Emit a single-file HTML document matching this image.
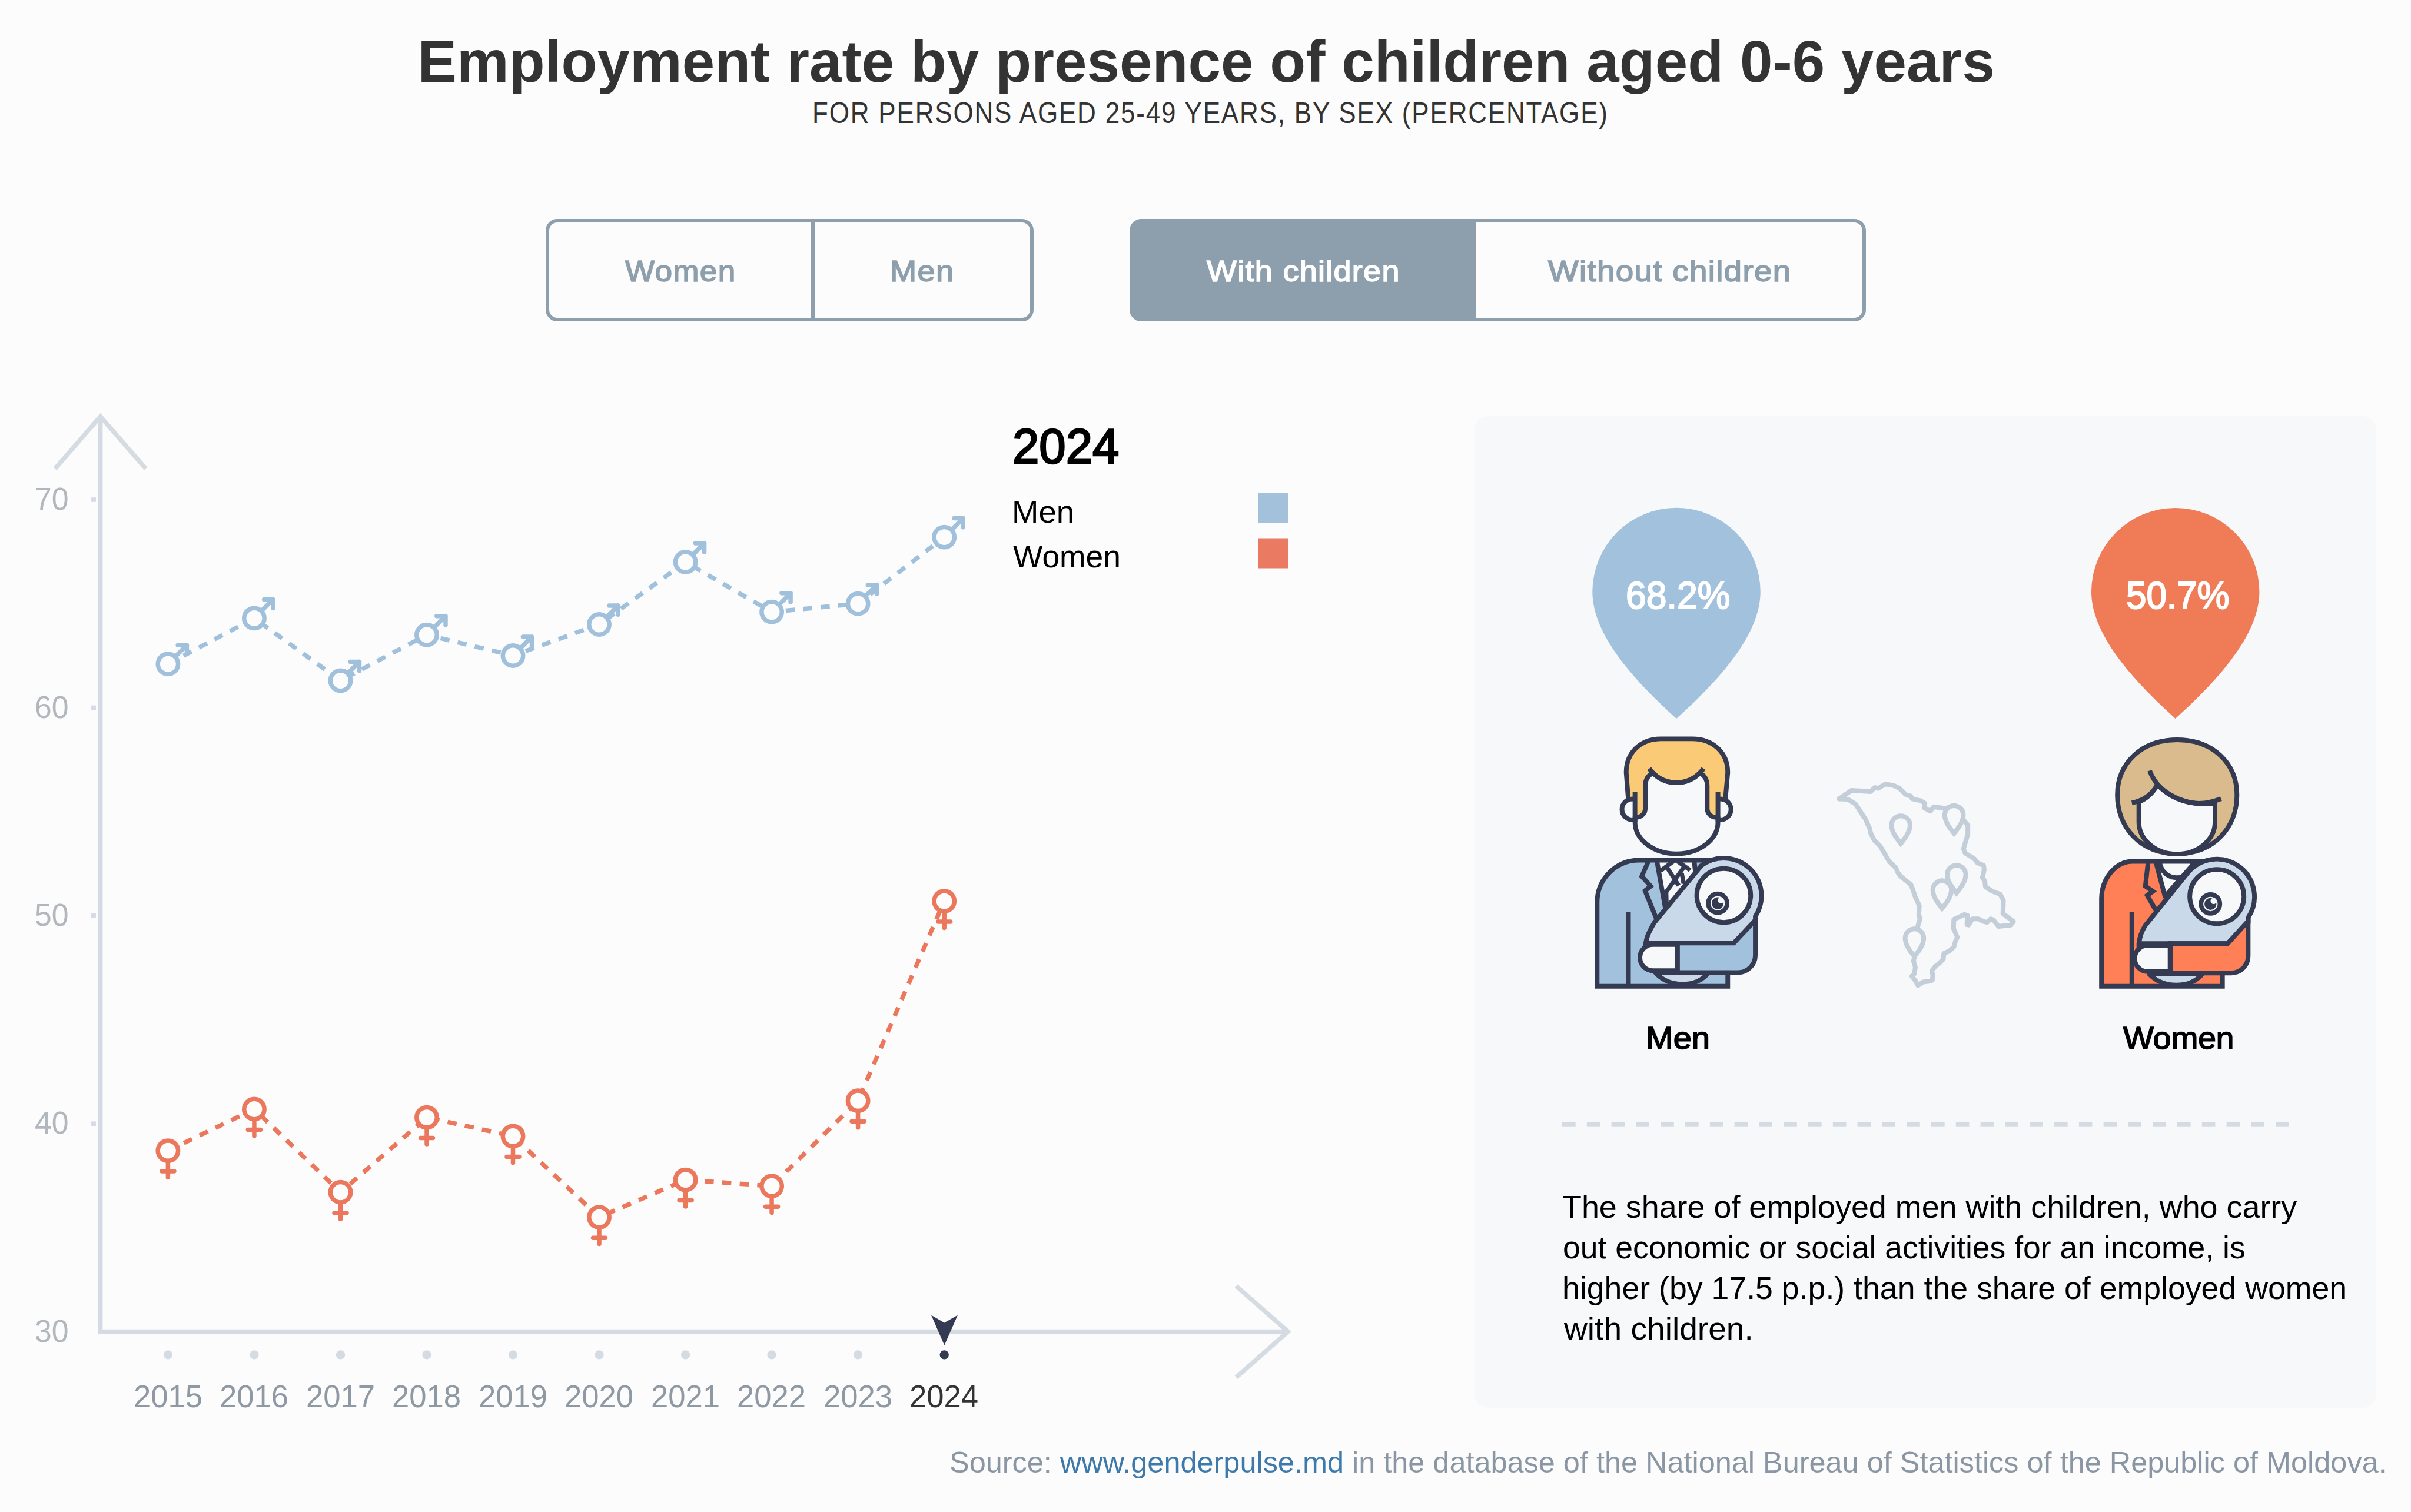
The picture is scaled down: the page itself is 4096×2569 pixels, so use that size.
<!DOCTYPE html>
<html lang="en">
<head>
<meta charset="utf-8">
<title>Employment rate by presence of children aged 0-6 years</title>
<style>
html,body{margin:0;padding:0;}
body{width:4096px;height:2569px;background:#fcfcfc;position:relative;overflow:hidden;font-family:"Liberation Sans",sans-serif;}
.t{position:absolute;display:block;white-space:nowrap;margin:0;padding:0;transform-origin:0 0;font-style:normal;}
.full{position:absolute;left:0;top:0;}
.btn{position:absolute;box-sizing:border-box;border:6px solid #8d9fac;top:372.3px;height:174px;}
.panel{position:absolute;left:2505px;top:707px;width:1532px;height:1684.5px;border-radius:24px;background:#f6f8fa;}
</style>
</head>
<body>
<div class="btn" role="button" style="left:927px;width:457px;border-radius:20px 0 0 20px;"></div>
<div class="btn" style="left:1378px;width:377.5px;border-radius:0 20px 20px 0;"></div>
<div class="btn" style="left:2502px;width:668px;border-radius:0 20px 20px 0;"></div>
<div class="btn" style="left:1919px;width:589px;border-radius:20px 0 0 20px;background:#8d9fac;"></div>
<div class="panel"></div>
<svg class="full" width="4096" height="2569" viewBox="0 0 4096 2569">
<g fill="none" stroke="#d5dbe2" stroke-width="7.6">
<path d="M170.6 708 V2262.6 H2190"/>
<path d="M93.4 796.5 L170.6 707.6 L247.9 796.5"/>
<path d="M2100.1 2185 L2188.3 2262.6 L2100.1 2340.2"/>
<path d="M155.1 849.0 H162.9"/>
<path d="M155.1 1202.4 H162.9"/>
<path d="M155.1 1555.8 H162.9"/>
<path d="M155.1 1909.2 H162.9"/>
</g>
<circle cx="285.4" cy="2301.9" r="7.7" fill="#d5dbe2"/>
<circle cx="431.9" cy="2301.9" r="7.7" fill="#d5dbe2"/>
<circle cx="578.5" cy="2301.9" r="7.7" fill="#d5dbe2"/>
<circle cx="725.0" cy="2301.9" r="7.7" fill="#d5dbe2"/>
<circle cx="871.5" cy="2301.9" r="7.7" fill="#d5dbe2"/>
<circle cx="1018.0" cy="2301.9" r="7.7" fill="#d5dbe2"/>
<circle cx="1164.6" cy="2301.9" r="7.7" fill="#d5dbe2"/>
<circle cx="1311.1" cy="2301.9" r="7.7" fill="#d5dbe2"/>
<circle cx="1457.6" cy="2301.9" r="7.7" fill="#d5dbe2"/>
<circle cx="1604.2" cy="2301.9" r="7.7" fill="#343a52"/>
<path d="M1582 2234.4 L1604.3 2247.5 L1627 2234.4 L1604.4 2285.7 Z" fill="#343a52"/>
<polyline points="285.4,1128.2 431.9,1050.4 578.5,1156.5 725.0,1078.7 871.5,1114.0 1018.0,1061.0 1164.6,955.0 1311.1,1039.8 1457.6,1025.7 1604.2,912.6" fill="none" stroke="#a1c0dc" stroke-width="7.5" stroke-dasharray="15.5 14.33"/>
<polyline points="285.4,1955.1 431.9,1884.5 578.5,2025.8 725.0,1898.6 871.5,1930.4 1018.0,2068.2 1164.6,2004.6 1311.1,2015.2 1457.6,1870.3 1604.2,1531.1" fill="none" stroke="#eb785c" stroke-width="7.5" stroke-dasharray="15.5 14.33"/>
<g fill="#fcfcfc" stroke="#a1c0dc" stroke-width="7.5" stroke-linecap="round" stroke-linejoin="round">
<g transform="translate(285.4 1128.2)"><path d="M12 -12 L32 -32 M16.8 -32 H32 V-16.8" fill="none"/><circle r="17.2"/></g>
<g transform="translate(431.9 1050.4)"><path d="M12 -12 L32 -32 M16.8 -32 H32 V-16.8" fill="none"/><circle r="17.2"/></g>
<g transform="translate(578.5 1156.5)"><path d="M12 -12 L32 -32 M16.8 -32 H32 V-16.8" fill="none"/><circle r="17.2"/></g>
<g transform="translate(725.0 1078.7)"><path d="M12 -12 L32 -32 M16.8 -32 H32 V-16.8" fill="none"/><circle r="17.2"/></g>
<g transform="translate(871.5 1114.0)"><path d="M12 -12 L32 -32 M16.8 -32 H32 V-16.8" fill="none"/><circle r="17.2"/></g>
<g transform="translate(1018.0 1061.0)"><path d="M12 -12 L32 -32 M16.8 -32 H32 V-16.8" fill="none"/><circle r="17.2"/></g>
<g transform="translate(1164.6 955.0)"><path d="M12 -12 L32 -32 M16.8 -32 H32 V-16.8" fill="none"/><circle r="17.2"/></g>
<g transform="translate(1311.1 1039.8)"><path d="M12 -12 L32 -32 M16.8 -32 H32 V-16.8" fill="none"/><circle r="17.2"/></g>
<g transform="translate(1457.6 1025.7)"><path d="M12 -12 L32 -32 M16.8 -32 H32 V-16.8" fill="none"/><circle r="17.2"/></g>
<g transform="translate(1604.2 912.6)"><path d="M12 -12 L32 -32 M16.8 -32 H32 V-16.8" fill="none"/><circle r="17.2"/></g>
</g>
<g fill="#fcfcfc" stroke="#eb785c" stroke-width="7.5" stroke-linecap="round" stroke-linejoin="round">
<g transform="translate(285.4 1955.1)"><path d="M0 17 V45.4 M-10.5 35 H10.5" fill="none"/><circle r="17.2"/></g>
<g transform="translate(431.9 1884.5)"><path d="M0 17 V45.4 M-10.5 35 H10.5" fill="none"/><circle r="17.2"/></g>
<g transform="translate(578.5 2025.8)"><path d="M0 17 V45.4 M-10.5 35 H10.5" fill="none"/><circle r="17.2"/></g>
<g transform="translate(725.0 1898.6)"><path d="M0 17 V45.4 M-10.5 35 H10.5" fill="none"/><circle r="17.2"/></g>
<g transform="translate(871.5 1930.4)"><path d="M0 17 V45.4 M-10.5 35 H10.5" fill="none"/><circle r="17.2"/></g>
<g transform="translate(1018.0 2068.2)"><path d="M0 17 V45.4 M-10.5 35 H10.5" fill="none"/><circle r="17.2"/></g>
<g transform="translate(1164.6 2004.6)"><path d="M0 17 V45.4 M-10.5 35 H10.5" fill="none"/><circle r="17.2"/></g>
<g transform="translate(1311.1 2015.2)"><path d="M0 17 V45.4 M-10.5 35 H10.5" fill="none"/><circle r="17.2"/></g>
<g transform="translate(1457.6 1870.3)"><path d="M0 17 V45.4 M-10.5 35 H10.5" fill="none"/><circle r="17.2"/></g>
<g transform="translate(1604.2 1531.1)"><path d="M0 17 V45.4 M-10.5 35 H10.5" fill="none"/><circle r="17.2"/></g>
</g>
<rect x="2138" y="838" width="51" height="51" fill="#a3c1db"/>
<rect x="2138" y="914.5" width="51" height="51" fill="#ea7b62"/>
</svg>
<svg class="full" width="4096" height="2569" viewBox="0 0 4096 2569">
<path d="M2705.3 1005.5 A142.7 142.7 0 0 1 2990.7 1005.5 C2990.7 1073.5 2930.1 1147.0 2848.0 1221.0 C2765.9 1147.0 2705.3 1073.5 2705.3 1005.5 Z" fill="#a1c1dd"/>
<path d="M3553.0 1005.5 A142.7 142.7 0 0 1 3838.4 1005.5 C3838.4 1073.5 3777.8 1147.0 3695.7 1221.0 C3613.6 1147.0 3553.0 1073.5 3553.0 1005.5 Z" fill="#ef7b57"/>
<path d="M2654 1910.9 H3889" stroke="#d5dbe2" stroke-width="7.6" stroke-dasharray="22.6 19.2" fill="none"/>
<g transform="translate(2690 1230) scale(0.15873)" stroke="#343a52" stroke-width="50" fill="none" stroke-linejoin="round">
<path d="M147 2808 V1909 A450 450 0 0 1 597 1459 H1400 V2600 H1545 V2808 Z" fill="#a1c1dd" stroke-linejoin="miter"/>
<path d="M785 1459 L880 1990 L1200 1600 L1185 1459 Z" fill="#f6f8fa"/>
<path d="M700 1459 L625 1631 L720 1736 L660 1786 L790 2106" stroke-linejoin="miter"/>
<path d="M826 1572 L975 1462 M1142 1566 L995 1462 M890 1530 L1020 1730 M1078 1530 L886 1800 L890 1940 M1053 1600 L1073 1710" stroke-width="46" stroke-linejoin="miter"/>
<path d="M482 2016 V2808"/>
<path d="M770 2661 C850 2750 950 2786 1060 2786 C1170 2786 1270 2750 1340 2661 Z" fill="#c9d9e9"/>
<path d="M665 2386 C665 2286 717 2200 757 2130 L1262.7 1516.0 A403 403 0 0 1 1840.0 2060.2 L1840 2120 L1610 2346 H665 Z" fill="#c9d9e9"/>
<path d="M1005 2346 H1610 L1840 2100 V2476 A185 185 0 0 1 1655 2661 H1005 Z" fill="#a1c1dd" stroke-linejoin="miter"/>
<path d="M1005 2361 H745 A140 140 0 0 0 745 2641 H1005 Z" fill="#f6f8fa"/>
<path d="M1005 2321 V2686" />
<circle cx="1502" cy="1836.5" r="288.5" fill="#f6f8fa"/>
<circle cx="1437" cy="1919.6" r="101" fill="#f6f8fa" stroke-width="48"/><circle cx="1437" cy="1919.6" r="64" fill="#343a52" stroke="none"/><circle cx="1471" cy="1887.6" r="33" fill="#f6f8fa" stroke="none"/>
<path d="M480 800 L458 520 C458 300 620 160 830 160 L1165 160 C1380 160 1545 300 1545 520 L1520 800 L1440 1000 L552 1000 Z" fill="#fbca76"/>
<circle cx="525" cy="915" r="112" fill="#f6f8fa"/>
<circle cx="1467" cy="915" r="112" fill="#f6f8fa"/>
<path d="M552 760 H662 V1000 H552 Z M1325 760 H1440 V1000 H1325 Z" fill="#fbca76" stroke="none"/>
<path d="M552 1000 V1050 A444 340 0 0 0 1440 1050 V1000 H1420 A95 95 0 0 1 1325 905 V660 C1325 590 1290 545 1245 526 A353 353 0 0 1 745 526 C700 545 662 590 662 660 V905 A95 95 0 0 1 567 1000 Z" fill="#f6f8fa"/>
<path d="M552 730 V1050 M1440 730 V1050 M705 478 A353 353 0 0 0 1285 478" stroke-linecap="butt"/>
</g>
<g transform="translate(3540 1230) scale(0.15873)" stroke="#343a52" stroke-width="50" fill="none" stroke-linejoin="round">
<path d="M190 2808 V1877 A337 406 0 0 1 527 1471 H1300 V2600 H1485 V2808 Z" fill="#ff7f57" stroke-linejoin="miter"/>
<path d="M770 1471 L870 1846 L1160 1516 L1180 1471 Z" fill="#f6f8fa"/>
<path d="M810 1471 C830 1600 920 1646 1000 1646 C1080 1646 1160 1600 1180 1471"/>
<path d="M690 1471 L660 1736 L740 1791 L680 1836 L790 2026" stroke-linejoin="miter"/>
<path d="M515 2016 V2808"/>
<path d="M700 2676 C780 2760 880 2796 990 2796 C1100 2796 1200 2760 1270 2676 Z" fill="#c9d9e9"/>
<path d="M590 2391 C590 2291 617 2230 657 2160 L1110.5 1597.0 A403 403 0 0 1 1761.0 2071.3 L1761 2131 L1540 2351 H590 Z" fill="#c9d9e9"/>
<path d="M925 2351 H1540 L1760 2110 V2486 A180 180 0 0 1 1580 2666 H925 Z" fill="#ff7f57" stroke-linejoin="miter"/>
<path d="M925 2371 H685 A140 140 0 0 0 685 2651 H925 Z" fill="#f6f8fa"/>
<path d="M925 2326 V2691"/>
<circle cx="1425" cy="1847" r="290" fill="#f6f8fa"/>
<circle cx="1356.4" cy="1927.2" r="101" fill="#f6f8fa" stroke-width="48"/><circle cx="1356.4" cy="1927.2" r="64" fill="#343a52" stroke="none"/><circle cx="1390.4" cy="1895.2" r="33" fill="#f6f8fa" stroke="none"/>
<path d="M1000 170 C1380 170 1640 420 1640 760 C1640 1100 1400 1390 1000 1390 C600 1390 360 1100 360 760 C360 420 620 170 1000 170 Z" fill="#d9bb8d"/>
<path d="M590 835 V1050 A407.5 343 0 0 0 1405 1050 V850 C1200 880 950 820 790 650 C740 740 680 800 590 835 Z" fill="#f6f8fa"/>
<path d="M515 845 Q700 810 790 650 M705 500 Q780 700 1000 800 Q1230 900 1470 800" stroke-linecap="butt"/>
</g>
<g transform="translate(3050 1280) scale(0.29762)" stroke="#c3ced9" stroke-width="27" fill="none" stroke-linejoin="round">
<path d="M250 260 L320 212 L430 218 L455 195 L472 200 L515 175 L565 185 L595 200 L630 235 L660 245 L668 260 L715 270 L740 285 L735 310 L770 330 L790 305 L855 315 L905 300 L960 380 L985 410 L985 460 L960 545 L970 570 L1020 600 L1040 625 L1075 640 L1078 665 L1068 710 L1082 730 L1085 760 L1120 785 L1170 805 L1188 840 L1185 915 L1245 960 L1230 980 L1160 988 L1130 950 L1115 945 L1095 965 L1075 960 L1045 945 L1010 945 L990 980 L980 978 L982 925 L965 920 L905 948 L903 1000 L925 1050 L915 1070 L905 1105 L880 1128 L848 1142 L845 1175 L820 1200 L800 1215 L780 1240 L785 1270 L782 1295 L770 1300 L730 1305 L700 1325 L685 1298 L665 1272 L680 1258 L685 1220 L675 1185 L680 1160 L700 985 L712 945 L705 920 L708 870 L685 820 L668 770 L660 750 L600 700 L585 680 L575 655 L535 615 L520 590 L485 530 L450 495 L430 455 L425 430 L400 375 L370 330 L345 290 L300 262 Z"/>
<path d="M549 410 A53 53 0 0 1 655 410 C655 450 622 490 602 515 C582 490 549 450 549 410 Z" fill="#f6f8fa" stroke-linejoin="miter"/>
<path d="M853 352 A53 53 0 0 1 959 352 C959 392 926 432 906 457 C886 432 853 392 853 352 Z" fill="#f6f8fa" stroke-linejoin="miter"/>
<path d="M785 780 A53 53 0 0 1 891 780 C891 820 858 860 838 885 C818 860 785 820 785 780 Z" fill="#f6f8fa" stroke-linejoin="miter"/>
<path d="M867 692 A53 53 0 0 1 973 692 C973 732 940 772 920 797 C900 772 867 732 867 692 Z" fill="#f6f8fa" stroke-linejoin="miter"/>
<path d="M627 1055 A53 53 0 0 1 733 1055 C733 1095 700 1135 680 1160 C660 1135 627 1095 627 1055 Z" fill="#f6f8fa" stroke-linejoin="miter"/>
</g>
</svg>
<h1 class="t" style="left:709.57px;top:55.15px;font-size:99.65px;line-height:99.65px;font-weight:700;color:#333;letter-spacing:0.087px">Employment rate by presence of children aged 0-6 years</h1>
<h2 class="t" style="left:1379.56px;top:168.02px;font-size:49.82px;line-height:49.82px;font-weight:400;color:#333;letter-spacing:2.037px;transform:scaleX(0.8836)">FOR PERSONS AGED 25-49 YEARS, BY SEX (PERCENTAGE)</h2>
<div class="t" style="left:1061.85px;top:437.12px;font-size:49.82px;line-height:49.82px;font-weight:400;color:#8d9fac;letter-spacing:1.219px;transform:scaleX(1.0663);-webkit-text-stroke:1.59px #8d9fac">Women</div>
<div class="t" style="left:1511.63px;top:437.12px;font-size:49.82px;line-height:49.82px;font-weight:400;color:#8d9fac;letter-spacing:1.195px;transform:scaleX(1.0879);-webkit-text-stroke:1.59px #8d9fac">Men</div>
<div class="t" style="left:2050.26px;top:437.12px;font-size:49.82px;line-height:49.82px;font-weight:400;color:#fff;letter-spacing:1.200px;transform:scaleX(1.0831);-webkit-text-stroke:1.59px #fff">With children</div>
<div class="t" style="left:2630.38px;top:437.12px;font-size:49.82px;line-height:49.82px;font-weight:400;color:#8d9fac;letter-spacing:1.183px;transform:scaleX(1.0993);-webkit-text-stroke:1.59px #8d9fac">Without children</div>
<div class="t" style="left:58.58px;top:822.29px;font-size:52.94px;line-height:52.94px;font-weight:400;color:#b1b7bd;transform:scaleX(0.9767)">70</div>
<div class="t" style="left:58.58px;top:1175.69px;font-size:52.94px;line-height:52.94px;font-weight:400;color:#b1b7bd;transform:scaleX(0.9767)">60</div>
<div class="t" style="left:58.58px;top:1529.09px;font-size:52.94px;line-height:52.94px;font-weight:400;color:#b1b7bd;transform:scaleX(0.9767)">50</div>
<div class="t" style="left:58.58px;top:1882.49px;font-size:52.94px;line-height:52.94px;font-weight:400;color:#b1b7bd;transform:scaleX(0.9767)">40</div>
<div class="t" style="left:58.58px;top:2235.89px;font-size:52.94px;line-height:52.94px;font-weight:400;color:#b1b7bd;transform:scaleX(0.9767)">30</div>
<div class="t" style="left:226.69px;top:2347.19px;font-size:52.94px;line-height:52.94px;font-weight:400;color:#8e99a4;transform:scaleX(0.9943)">2015</div>
<div class="t" style="left:373.22px;top:2347.19px;font-size:52.94px;line-height:52.94px;font-weight:400;color:#8e99a4;transform:scaleX(0.9943)">2016</div>
<div class="t" style="left:519.75px;top:2347.19px;font-size:52.94px;line-height:52.94px;font-weight:400;color:#8e99a4;transform:scaleX(0.9943)">2017</div>
<div class="t" style="left:666.28px;top:2347.19px;font-size:52.94px;line-height:52.94px;font-weight:400;color:#8e99a4;transform:scaleX(0.9943)">2018</div>
<div class="t" style="left:812.81px;top:2347.19px;font-size:52.94px;line-height:52.94px;font-weight:400;color:#8e99a4;transform:scaleX(0.9943)">2019</div>
<div class="t" style="left:958.92px;top:2347.19px;font-size:52.94px;line-height:52.94px;font-weight:400;color:#8e99a4;transform:scaleX(0.9943)">2020</div>
<div class="t" style="left:1105.87px;top:2347.19px;font-size:52.94px;line-height:52.94px;font-weight:400;color:#8e99a4;transform:scaleX(0.9943)">2021</div>
<div class="t" style="left:1252.40px;top:2347.19px;font-size:52.94px;line-height:52.94px;font-weight:400;color:#8e99a4;transform:scaleX(0.9943)">2022</div>
<div class="t" style="left:1398.93px;top:2347.19px;font-size:52.94px;line-height:52.94px;font-weight:400;color:#8e99a4;transform:scaleX(0.9943)">2023</div>
<div class="t" style="left:1545.04px;top:2347.19px;font-size:52.94px;line-height:52.94px;font-weight:400;color:#333;transform:scaleX(0.9943)">2024</div>
<div class="t" style="left:1719.98px;top:715.93px;font-size:84.08px;line-height:84.08px;font-weight:400;color:#000;transform:scaleX(0.9701);-webkit-text-stroke:2.69px #000">2024</div>
<div class="t" style="left:1718.74px;top:844.19px;font-size:52.94px;line-height:52.94px;font-weight:400;color:#000;transform:scaleX(1.0295)">Men</div>
<div class="t" style="left:1720.60px;top:920.39px;font-size:52.94px;line-height:52.94px;font-weight:400;color:#000;transform:scaleX(1.0086)">Women</div>
<div class="t" style="left:2761.87px;top:979.04px;font-size:65.39px;line-height:65.39px;font-weight:400;color:#fff;transform:scaleX(0.9567);-webkit-text-stroke:2.09px #fff">68.2%</div>
<div class="t" style="left:3612.26px;top:979.04px;font-size:65.39px;line-height:65.39px;font-weight:400;color:#fff;transform:scaleX(0.9470);-webkit-text-stroke:2.09px #fff">50.7%</div>
<div class="t" style="left:2795.72px;top:1737.69px;font-size:52.94px;line-height:52.94px;font-weight:400;color:#000;transform:scaleX(1.0588);-webkit-text-stroke:1.69px #000">Men</div>
<div class="t" style="left:3606.58px;top:1737.69px;font-size:52.94px;line-height:52.94px;font-weight:400;color:#000;transform:scaleX(1.0380);-webkit-text-stroke:1.69px #000">Women</div>
<p class="t" style="left:2653.56px;top:2025.29px;font-size:52.94px;line-height:52.94px;font-weight:400;color:#000;transform:scaleX(1.0173)">The share of employed men with children, who carry</p>
<p class="t" style="left:2654.53px;top:2094.29px;font-size:52.94px;line-height:52.94px;font-weight:400;color:#000;transform:scaleX(1.0106)">out economic or social activities for an income, is</p>
<p class="t" style="left:2653.95px;top:2162.99px;font-size:52.94px;line-height:52.94px;font-weight:400;color:#000;transform:scaleX(1.0135)">higher (by 17.5 p.p.) than the share of employed women</p>
<p class="t" style="left:2656.66px;top:2232.39px;font-size:52.94px;line-height:52.94px;font-weight:400;color:#000;transform:scaleX(1.0417)">with children.</p>
<footer class="t" style="left:1613.02px;top:2460.62px;font-size:49.82px;line-height:49.82px;font-weight:400;color:#8a96a3;transform:scaleX(1.0124)">Source: <span style="color:#3d7aab">www.genderpulse.md</span> in the database of the National Bureau of Statistics of the Republic of Moldova.</footer>
</body>
</html>
